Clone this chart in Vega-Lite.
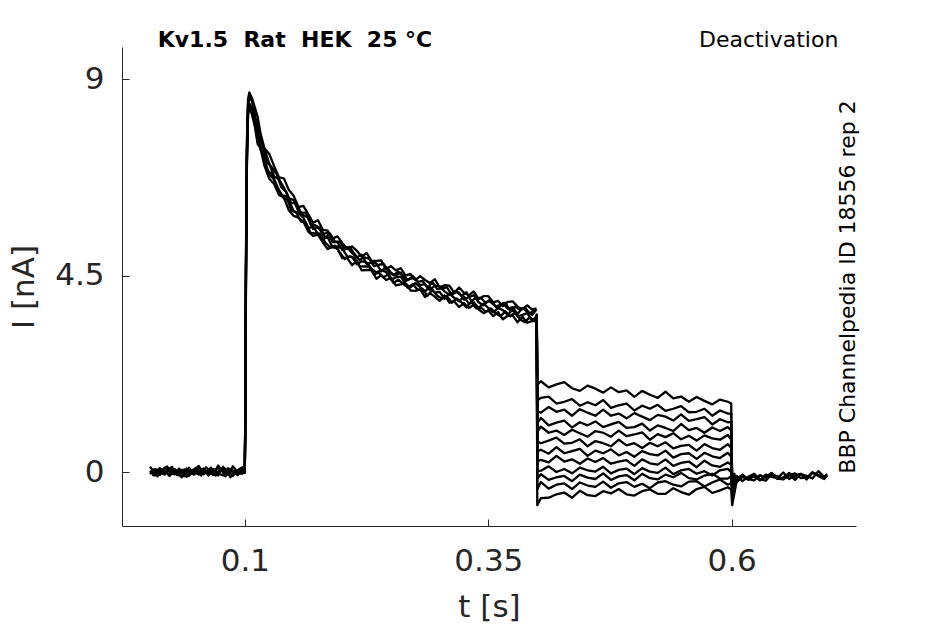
{
"$schema":"https://vega.github.io/schema/vega-lite/v6.json",
"autosize":{"type":"none"},
"width":734,"height":479,
"padding":{"left":122,"top":47,"right":89,"bottom":98},
"background":"white",
"config":{"view":{"stroke":null},"font":"DejaVu Sans",
"axis":{"grid":false,"labelFont":"DejaVu Sans","titleFont":"DejaVu Sans","labelFontSize":31,"titleFontSize":31,"labelColor":"#262626","titleColor":"#262626","titleFontWeight":"normal","domainColor":"#262626","tickColor":"#262626","domainWidth":1,"tickWidth":1,"tickSize":-7,"labelFlush":false,"labelOverlap":false}},
"datasets":{
"notes":[
{"k":"title","t":0.0104,"i":9.74,"label":"Kv1.5\u00a0\u00a0Rat\u00a0\u00a0HEK\u00a0\u00a025 °C"},
{"k":"prot","t":0.7096,"i":9.74,"label":"Deactivation"},
{"k":"src","t":0.7198,"i":4.24,"label":"BBP Channelpedia ID 18556 rep 2"}
],
"traces":[
{"s":"a1","t":0.0025,"i":0.12},{"s":"a1","t":0.0075,"i":-0.03},{"s":"a1","t":0.0125,"i":0.05},{"s":"a1","t":0.0175,"i":-0.06},{"s":"a1","t":0.0225,"i":0.08},{"s":"a1","t":0.0275,"i":0.01},{"s":"a1","t":0.0325,"i":-0.08},{"s":"a1","t":0.0375,"i":0.06},{"s":"a1","t":0.0425,"i":0.0},{"s":"a1","t":0.0475,"i":-0.05},{"s":"a1","t":0.0525,"i":0.09},{"s":"a1","t":0.0575,"i":-0.02},{"s":"a1","t":0.0625,"i":0.04},{"s":"a1","t":0.0675,"i":-0.07},{"s":"a1","t":0.0725,"i":0.15},{"s":"a1","t":0.0775,"i":-0.01},{"s":"a1","t":0.0825,"i":0.06},{"s":"a1","t":0.0875,"i":-0.09},{"s":"a1","t":0.0925,"i":0.03},{"s":"a1","t":0.0975,"i":0.11},{"s":"a1","t":0.0998,"i":0.02},
{"s":"a1","t":0.1003,"i":1.2},{"s":"a1","t":0.101,"i":4.8},{"s":"a1","t":0.102,"i":7.6},{"s":"a1","t":0.1032,"i":8.55},{"s":"a1","t":0.1045,"i":8.7},
{"s":"a1","t":0.107,"i":8.58},{"s":"a1","t":0.11,"i":8.37},{"s":"a1","t":0.113,"i":8.14},{"s":"a1","t":0.116,"i":7.76},{"s":"a1","t":0.12,"i":7.42},{"s":"a1","t":0.125,"i":7.29},{"s":"a1","t":0.13,"i":7.01},{"s":"a1","t":0.135,"i":6.75},{"s":"a1","t":0.14,"i":6.73},{"s":"a1","t":0.145,"i":6.47},{"s":"a1","t":0.15,"i":6.33},{"s":"a1","t":0.155,"i":6.07},{"s":"a1","t":0.16,"i":6.1},{"s":"a1","t":0.165,"i":5.91},{"s":"a1","t":0.17,"i":5.71},{"s":"a1","t":0.175,"i":5.77},{"s":"a1","t":0.18,"i":5.55},{"s":"a1","t":0.185,"i":5.53},{"s":"a1","t":0.19,"i":5.35},{"s":"a1","t":0.195,"i":5.4},{"s":"a1","t":0.2,"i":5.25},{"s":"a1","t":0.205,"i":5.11},{"s":"a1","t":0.21,"i":5.17},{"s":"a1","t":0.215,"i":5.07},{"s":"a1","t":0.22,"i":4.93},{"s":"a1","t":0.225,"i":5.02},{"s":"a1","t":0.23,"i":4.84},{"s":"a1","t":0.235,"i":4.84},{"s":"a1","t":0.24,"i":4.85},{"s":"a1","t":0.245,"i":4.64},{"s":"a1","t":0.25,"i":4.72},{"s":"a1","t":0.255,"i":4.62},{"s":"a1","t":0.26,"i":4.67},{"s":"a1","t":0.265,"i":4.5},{"s":"a1","t":0.27,"i":4.54},{"s":"a1","t":0.275,"i":4.4},{"s":"a1","t":0.28,"i":4.49},{"s":"a1","t":0.285,"i":4.4},{"s":"a1","t":0.29,"i":4.33},{"s":"a1","t":0.295,"i":4.42},{"s":"a1","t":0.3,"i":4.23},{"s":"a1","t":0.305,"i":4.28},{"s":"a1","t":0.31,"i":4.27},{"s":"a1","t":0.315,"i":4.11},{"s":"a1","t":0.32,"i":4.23},{"s":"a1","t":0.325,"i":4.11},{"s":"a1","t":0.33,"i":4.05},{"s":"a1","t":0.335,"i":4.14},{"s":"a1","t":0.34,"i":3.96},{"s":"a1","t":0.345,"i":4.03},{"s":"a1","t":0.35,"i":4.03},{"s":"a1","t":0.355,"i":3.89},{"s":"a1","t":0.36,"i":3.92},{"s":"a1","t":0.365,"i":3.8},{"s":"a1","t":0.37,"i":3.9},{"s":"a1","t":0.375,"i":3.91},{"s":"a1","t":0.38,"i":3.79},{"s":"a1","t":0.385,"i":3.73},{"s":"a1","t":0.39,"i":3.82},{"s":"a1","t":0.395,"i":3.72},{"s":"a1","t":0.3995,"i":3.75},
{"s":"a2","t":0.0025,"i":-0.05},{"s":"a2","t":0.0075,"i":0.07},{"s":"a2","t":0.0125,"i":-0.01},{"s":"a2","t":0.0175,"i":0.04},{"s":"a2","t":0.0225,"i":-0.09},{"s":"a2","t":0.0275,"i":0.06},{"s":"a2","t":0.0325,"i":0.02},{"s":"a2","t":0.0375,"i":-0.04},{"s":"a2","t":0.0425,"i":0.1},{"s":"a2","t":0.0475,"i":-0.06},{"s":"a2","t":0.0525,"i":0.01},{"s":"a2","t":0.0575,"i":0.08},{"s":"a2","t":0.0625,"i":-0.03},{"s":"a2","t":0.0675,"i":0.05},{"s":"a2","t":0.0725,"i":-0.08},{"s":"a2","t":0.0775,"i":0.12},{"s":"a2","t":0.0825,"i":-0.02},{"s":"a2","t":0.0875,"i":0.04},{"s":"a2","t":0.0925,"i":-0.07},{"s":"a2","t":0.0975,"i":0.06},{"s":"a2","t":0.0998,"i":0.0},
{"s":"a2","t":0.1003,"i":1.0},{"s":"a2","t":0.101,"i":4.5},{"s":"a2","t":0.102,"i":7.4},{"s":"a2","t":0.1032,"i":8.45},{"s":"a2","t":0.1045,"i":8.6},
{"s":"a2","t":0.107,"i":8.55},{"s":"a2","t":0.11,"i":8.17},{"s":"a2","t":0.113,"i":7.93},{"s":"a2","t":0.116,"i":7.58},{"s":"a2","t":0.12,"i":7.41},{"s":"a2","t":0.125,"i":7.07},{"s":"a2","t":0.13,"i":6.77},{"s":"a2","t":0.135,"i":6.71},{"s":"a2","t":0.14,"i":6.52},{"s":"a2","t":0.145,"i":6.28},{"s":"a2","t":0.15,"i":6.23},{"s":"a2","t":0.155,"i":5.97},{"s":"a2","t":0.16,"i":5.89},{"s":"a2","t":0.165,"i":5.83},{"s":"a2","t":0.17,"i":5.57},{"s":"a2","t":0.175,"i":5.61},{"s":"a2","t":0.18,"i":5.46},{"s":"a2","t":0.185,"i":5.48},{"s":"a2","t":0.19,"i":5.27},{"s":"a2","t":0.195,"i":5.27},{"s":"a2","t":0.2,"i":5.09},{"s":"a2","t":0.205,"i":5.15},{"s":"a2","t":0.21,"i":5.02},{"s":"a2","t":0.215,"i":4.92},{"s":"a2","t":0.22,"i":4.98},{"s":"a2","t":0.225,"i":4.77},{"s":"a2","t":0.23,"i":4.8},{"s":"a2","t":0.235,"i":4.78},{"s":"a2","t":0.24,"i":4.6},{"s":"a2","t":0.245,"i":4.7},{"s":"a2","t":0.25,"i":4.57},{"s":"a2","t":0.255,"i":4.5},{"s":"a2","t":0.26,"i":4.57},{"s":"a2","t":0.265,"i":4.38},{"s":"a2","t":0.27,"i":4.44},{"s":"a2","t":0.275,"i":4.43},{"s":"a2","t":0.28,"i":4.28},{"s":"a2","t":0.285,"i":4.31},{"s":"a2","t":0.29,"i":4.17},{"s":"a2","t":0.295,"i":4.27},{"s":"a2","t":0.3,"i":4.26},{"s":"a2","t":0.305,"i":4.14},{"s":"a2","t":0.31,"i":4.06},{"s":"a2","t":0.315,"i":4.14},{"s":"a2","t":0.32,"i":4.11},{"s":"a2","t":0.325,"i":3.95},{"s":"a2","t":0.33,"i":4.01},{"s":"a2","t":0.335,"i":4.05},{"s":"a2","t":0.34,"i":3.89},{"s":"a2","t":0.345,"i":3.82},{"s":"a2","t":0.35,"i":3.93},{"s":"a2","t":0.355,"i":3.85},{"s":"a2","t":0.36,"i":3.75},{"s":"a2","t":0.365,"i":3.87},{"s":"a2","t":0.37,"i":3.74},{"s":"a2","t":0.375,"i":3.78},{"s":"a2","t":0.38,"i":3.62},{"s":"a2","t":0.385,"i":3.76},{"s":"a2","t":0.39,"i":3.67},{"s":"a2","t":0.395,"i":3.6},{"s":"a2","t":0.3995,"i":3.73},
{"s":"a3","t":0.0025,"i":0.03},{"s":"a3","t":0.0075,"i":-0.08},{"s":"a3","t":0.0125,"i":0.09},{"s":"a3","t":0.0175,"i":0.0},{"s":"a3","t":0.0225,"i":-0.04},{"s":"a3","t":0.0275,"i":0.07},{"s":"a3","t":0.0325,"i":-0.06},{"s":"a3","t":0.0375,"i":0.03},{"s":"a3","t":0.0425,"i":-0.09},{"s":"a3","t":0.0475,"i":0.05},{"s":"a3","t":0.0525,"i":0.14},{"s":"a3","t":0.0575,"i":-0.05},{"s":"a3","t":0.0625,"i":0.02},{"s":"a3","t":0.0675,"i":0.07},{"s":"a3","t":0.0725,"i":-0.03},{"s":"a3","t":0.0775,"i":-0.08},{"s":"a3","t":0.0825,"i":0.09},{"s":"a3","t":0.0875,"i":0.01},{"s":"a3","t":0.0925,"i":-0.05},{"s":"a3","t":0.0975,"i":0.04},{"s":"a3","t":0.0998,"i":-0.02},
{"s":"a3","t":0.1003,"i":0.9},{"s":"a3","t":0.101,"i":4.3},{"s":"a3","t":0.102,"i":7.2},{"s":"a3","t":0.1032,"i":8.3},{"s":"a3","t":0.1045,"i":8.45},
{"s":"a3","t":0.107,"i":8.34},{"s":"a3","t":0.11,"i":7.98},{"s":"a3","t":0.113,"i":7.78},{"s":"a3","t":0.116,"i":7.4},{"s":"a3","t":0.12,"i":7.18},{"s":"a3","t":0.125,"i":6.81},{"s":"a3","t":0.13,"i":6.71},{"s":"a3","t":0.135,"i":6.46},{"s":"a3","t":0.14,"i":6.27},{"s":"a3","t":0.145,"i":6.23},{"s":"a3","t":0.15,"i":5.98},{"s":"a3","t":0.155,"i":5.93},{"s":"a3","t":0.16,"i":5.83},{"s":"a3","t":0.165,"i":5.58},{"s":"a3","t":0.17,"i":5.63},{"s":"a3","t":0.175,"i":5.46},{"s":"a3","t":0.18,"i":5.34},{"s":"a3","t":0.185,"i":5.38},{"s":"a3","t":0.19,"i":5.15},{"s":"a3","t":0.195,"i":5.17},{"s":"a3","t":0.2,"i":5.12},{"s":"a3","t":0.205,"i":4.94},{"s":"a3","t":0.21,"i":4.93},{"s":"a3","t":0.215,"i":4.76},{"s":"a3","t":0.22,"i":4.83},{"s":"a3","t":0.225,"i":4.8},{"s":"a3","t":0.23,"i":4.66},{"s":"a3","t":0.235,"i":4.57},{"s":"a3","t":0.24,"i":4.63},{"s":"a3","t":0.245,"i":4.58},{"s":"a3","t":0.25,"i":4.41},{"s":"a3","t":0.255,"i":4.46},{"s":"a3","t":0.26,"i":4.48},{"s":"a3","t":0.265,"i":4.31},{"s":"a3","t":0.27,"i":4.23},{"s":"a3","t":0.275,"i":4.33},{"s":"a3","t":0.28,"i":4.24},{"s":"a3","t":0.285,"i":4.14},{"s":"a3","t":0.29,"i":4.24},{"s":"a3","t":0.295,"i":4.11},{"s":"a3","t":0.3,"i":4.13},{"s":"a3","t":0.305,"i":3.97},{"s":"a3","t":0.31,"i":4.09},{"s":"a3","t":0.315,"i":3.99},{"s":"a3","t":0.32,"i":3.91},{"s":"a3","t":0.325,"i":4.02},{"s":"a3","t":0.33,"i":3.86},{"s":"a3","t":0.335,"i":3.89},{"s":"a3","t":0.34,"i":3.76},{"s":"a3","t":0.345,"i":3.86},{"s":"a3","t":0.35,"i":3.76},{"s":"a3","t":0.355,"i":3.66},{"s":"a3","t":0.36,"i":3.76},{"s":"a3","t":0.365,"i":3.71},{"s":"a3","t":0.37,"i":3.6},{"s":"a3","t":0.375,"i":3.73},{"s":"a3","t":0.38,"i":3.57},{"s":"a3","t":0.385,"i":3.6},{"s":"a3","t":0.39,"i":3.64},{"s":"a3","t":0.395,"i":3.46},{"s":"a3","t":0.3995,"i":3.57},
{"s":"a4","t":0.0025,"i":-0.02},{"s":"a4","t":0.0075,"i":0.05},{"s":"a4","t":0.0125,"i":-0.07},{"s":"a4","t":0.0175,"i":0.1},{"s":"a4","t":0.0225,"i":0.02},{"s":"a4","t":0.0275,"i":-0.05},{"s":"a4","t":0.0325,"i":0.08},{"s":"a4","t":0.0375,"i":-0.1},{"s":"a4","t":0.0425,"i":0.04},{"s":"a4","t":0.0475,"i":0.01},{"s":"a4","t":0.0525,"i":-0.06},{"s":"a4","t":0.0575,"i":0.06},{"s":"a4","t":0.0625,"i":-0.08},{"s":"a4","t":0.0675,"i":0.02},{"s":"a4","t":0.0725,"i":0.09},{"s":"a4","t":0.0775,"i":0.03},{"s":"a4","t":0.0825,"i":-0.06},{"s":"a4","t":0.0875,"i":0.13},{"s":"a4","t":0.0925,"i":0.0},{"s":"a4","t":0.0975,"i":-0.04},{"s":"a4","t":0.0998,"i":0.03},
{"s":"a4","t":0.1003,"i":0.8},{"s":"a4","t":0.101,"i":4.1},{"s":"a4","t":0.102,"i":7.0},{"s":"a4","t":0.1032,"i":8.2},{"s":"a4","t":0.1045,"i":8.35},
{"s":"a4","t":0.107,"i":8.21},{"s":"a4","t":0.11,"i":7.94},{"s":"a4","t":0.113,"i":7.52},{"s":"a4","t":0.116,"i":7.42},{"s":"a4","t":0.12,"i":7.02},{"s":"a4","t":0.125,"i":6.72},{"s":"a4","t":0.13,"i":6.6},{"s":"a4","t":0.135,"i":6.35},{"s":"a4","t":0.14,"i":6.29},{"s":"a4","t":0.145,"i":6.0},{"s":"a4","t":0.15,"i":5.87},{"s":"a4","t":0.155,"i":5.83},{"s":"a4","t":0.16,"i":5.74},{"s":"a4","t":0.165,"i":5.51},{"s":"a4","t":0.17,"i":5.41},{"s":"a4","t":0.175,"i":5.44},{"s":"a4","t":0.18,"i":5.26},{"s":"a4","t":0.185,"i":5.11},{"s":"a4","t":0.19,"i":5.16},{"s":"a4","t":0.195,"i":5.12},{"s":"a4","t":0.2,"i":4.9},{"s":"a4","t":0.205,"i":4.91},{"s":"a4","t":0.21,"i":4.74},{"s":"a4","t":0.215,"i":4.84},{"s":"a4","t":0.22,"i":4.62},{"s":"a4","t":0.225,"i":4.63},{"s":"a4","t":0.23,"i":4.63},{"s":"a4","t":0.235,"i":4.43},{"s":"a4","t":0.24,"i":4.51},{"s":"a4","t":0.245,"i":4.4},{"s":"a4","t":0.25,"i":4.45},{"s":"a4","t":0.255,"i":4.28},{"s":"a4","t":0.26,"i":4.3},{"s":"a4","t":0.265,"i":4.33},{"s":"a4","t":0.27,"i":4.16},{"s":"a4","t":0.275,"i":4.15},{"s":"a4","t":0.28,"i":4.19},{"s":"a4","t":0.285,"i":4.01},{"s":"a4","t":0.29,"i":4.1},{"s":"a4","t":0.295,"i":4.02},{"s":"a4","t":0.3,"i":3.92},{"s":"a4","t":0.305,"i":4.05},{"s":"a4","t":0.31,"i":3.88},{"s":"a4","t":0.315,"i":3.91},{"s":"a4","t":0.32,"i":3.78},{"s":"a4","t":0.325,"i":3.87},{"s":"a4","t":0.33,"i":3.76},{"s":"a4","t":0.335,"i":3.83},{"s":"a4","t":0.34,"i":3.73},{"s":"a4","t":0.345,"i":3.64},{"s":"a4","t":0.35,"i":3.7},{"s":"a4","t":0.355,"i":3.57},{"s":"a4","t":0.36,"i":3.67},{"s":"a4","t":0.365,"i":3.5},{"s":"a4","t":0.37,"i":3.58},{"s":"a4","t":0.375,"i":3.59},{"s":"a4","t":0.38,"i":3.43},{"s":"a4","t":0.385,"i":3.56},{"s":"a4","t":0.39,"i":3.42},{"s":"a4","t":0.395,"i":3.46},{"s":"a4","t":0.3995,"i":3.46},
{"s":"a5","t":0.005,"i":0.07},{"s":"a5","t":0.01,"i":-0.1},{"s":"a5","t":0.015,"i":0.04},{"s":"a5","t":0.02,"i":0.13},{"s":"a5","t":0.025,"i":-0.05},{"s":"a5","t":0.03,"i":0.02},{"s":"a5","t":0.035,"i":-0.12},{"s":"a5","t":0.04,"i":0.08},{"s":"a5","t":0.045,"i":-0.03},{"s":"a5","t":0.05,"i":0.06},{"s":"a5","t":0.055,"i":-0.08},{"s":"a5","t":0.06,"i":0.11},{"s":"a5","t":0.065,"i":0.0},{"s":"a5","t":0.07,"i":-0.06},{"s":"a5","t":0.075,"i":0.09},{"s":"a5","t":0.08,"i":-0.1},{"s":"a5","t":0.085,"i":0.05},{"s":"a5","t":0.09,"i":-0.02},{"s":"a5","t":0.095,"i":0.08},{"s":"a5","t":0.0998,"i":0.0},
{"s":"a5","t":0.1003,"i":1.1},{"s":"a5","t":0.101,"i":4.6},{"s":"a5","t":0.102,"i":7.3},{"s":"a5","t":0.1032,"i":8.4},{"s":"a5","t":0.1045,"i":8.55},
{"s":"a5","t":0.1075,"i":8.51},{"s":"a5","t":0.1125,"i":7.87},{"s":"a5","t":0.1175,"i":7.54},{"s":"a5","t":0.1225,"i":7.1},{"s":"a5","t":0.1275,"i":6.99},{"s":"a5","t":0.1325,"i":6.83},{"s":"a5","t":0.1375,"i":6.52},{"s":"a5","t":0.1425,"i":6.42},{"s":"a5","t":0.1475,"i":6.16},{"s":"a5","t":0.1525,"i":6.16},{"s":"a5","t":0.1575,"i":5.95},{"s":"a5","t":0.1625,"i":5.94},{"s":"a5","t":0.1675,"i":5.67},{"s":"a5","t":0.1725,"i":5.65},{"s":"a5","t":0.1775,"i":5.59},{"s":"a5","t":0.1825,"i":5.37},{"s":"a5","t":0.1875,"i":5.46},{"s":"a5","t":0.1925,"i":5.28},{"s":"a5","t":0.1975,"i":5.28},{"s":"a5","t":0.2025,"i":5.1},{"s":"a5","t":0.2075,"i":5.16},{"s":"a5","t":0.2125,"i":5.0},{"s":"a5","t":0.2175,"i":4.86},{"s":"a5","t":0.2225,"i":4.92},{"s":"a5","t":0.2275,"i":4.89},{"s":"a5","t":0.2325,"i":4.72},{"s":"a5","t":0.2375,"i":4.75},{"s":"a5","t":0.2425,"i":4.77},{"s":"a5","t":0.2475,"i":4.59},{"s":"a5","t":0.2525,"i":4.51},{"s":"a5","t":0.2575,"i":4.59},{"s":"a5","t":0.2625,"i":4.5},{"s":"a5","t":0.2675,"i":4.4},{"s":"a5","t":0.2725,"i":4.49},{"s":"a5","t":0.2775,"i":4.36},{"s":"a5","t":0.2825,"i":4.38},{"s":"a5","t":0.2875,"i":4.22},{"s":"a5","t":0.2925,"i":4.35},{"s":"a5","t":0.2975,"i":4.19},{"s":"a5","t":0.3025,"i":4.21},{"s":"a5","t":0.3075,"i":4.23},{"s":"a5","t":0.3125,"i":4.06},{"s":"a5","t":0.3175,"i":4.13},{"s":"a5","t":0.3225,"i":4.04},{"s":"a5","t":0.3275,"i":4.12},{"s":"a5","t":0.3325,"i":3.92},{"s":"a5","t":0.3375,"i":3.99},{"s":"a5","t":0.3425,"i":3.99},{"s":"a5","t":0.3475,"i":3.87},{"s":"a5","t":0.3525,"i":3.95},{"s":"a5","t":0.3575,"i":3.79},{"s":"a5","t":0.3625,"i":3.83},{"s":"a5","t":0.3675,"i":3.88},{"s":"a5","t":0.3725,"i":3.69},{"s":"a5","t":0.3775,"i":3.79},{"s":"a5","t":0.3825,"i":3.72},{"s":"a5","t":0.3875,"i":3.77},{"s":"a5","t":0.3925,"i":3.64},{"s":"a5","t":0.3975,"i":3.7},
{"s":"a6","t":0.005,"i":-0.09},{"s":"a6","t":0.01,"i":0.06},{"s":"a6","t":0.015,"i":-0.04},{"s":"a6","t":0.02,"i":0.02},{"s":"a6","t":0.025,"i":0.12},{"s":"a6","t":0.03,"i":-0.07},{"s":"a6","t":0.035,"i":0.05},{"s":"a6","t":0.04,"i":-0.11},{"s":"a6","t":0.045,"i":0.03},{"s":"a6","t":0.05,"i":0.09},{"s":"a6","t":0.055,"i":-0.05},{"s":"a6","t":0.06,"i":-0.01},{"s":"a6","t":0.065,"i":0.1},{"s":"a6","t":0.07,"i":-0.08},{"s":"a6","t":0.075,"i":0.04},{"s":"a6","t":0.08,"i":0.07},{"s":"a6","t":0.085,"i":-0.12},{"s":"a6","t":0.09,"i":0.03},{"s":"a6","t":0.095,"i":-0.04},{"s":"a6","t":0.0998,"i":0.01},
{"s":"a6","t":0.1003,"i":0.95},{"s":"a6","t":0.101,"i":4.4},{"s":"a6","t":0.102,"i":7.1},{"s":"a6","t":0.1032,"i":8.25},{"s":"a6","t":0.1045,"i":8.4},
{"s":"a6","t":0.1075,"i":8.33},{"s":"a6","t":0.1125,"i":7.69},{"s":"a6","t":0.1175,"i":7.35},{"s":"a6","t":0.1225,"i":6.92},{"s":"a6","t":0.1275,"i":6.83},{"s":"a6","t":0.1325,"i":6.54},{"s":"a6","t":0.1375,"i":6.34},{"s":"a6","t":0.1425,"i":6.32},{"s":"a6","t":0.1475,"i":5.99},{"s":"a6","t":0.1525,"i":5.95},{"s":"a6","t":0.1575,"i":5.74},{"s":"a6","t":0.1625,"i":5.72},{"s":"a6","t":0.1675,"i":5.48},{"s":"a6","t":0.1725,"i":5.47},{"s":"a6","t":0.1775,"i":5.46},{"s":"a6","t":0.1825,"i":5.26},{"s":"a6","t":0.1875,"i":5.15},{"s":"a6","t":0.1925,"i":5.19},{"s":"a6","t":0.1975,"i":5.03},{"s":"a6","t":0.2025,"i":4.88},{"s":"a6","t":0.2075,"i":4.94},{"s":"a6","t":0.2125,"i":4.91},{"s":"a6","t":0.2175,"i":4.72},{"s":"a6","t":0.2225,"i":4.71},{"s":"a6","t":0.2275,"i":4.71},{"s":"a6","t":0.2325,"i":4.53},{"s":"a6","t":0.2375,"i":4.57},{"s":"a6","t":0.2425,"i":4.46},{"s":"a6","t":0.2475,"i":4.54},{"s":"a6","t":0.2525,"i":4.33},{"s":"a6","t":0.2575,"i":4.41},{"s":"a6","t":0.2625,"i":4.31},{"s":"a6","t":0.2675,"i":4.22},{"s":"a6","t":0.2725,"i":4.31},{"s":"a6","t":0.2775,"i":4.17},{"s":"a6","t":0.2825,"i":4.19},{"s":"a6","t":0.2875,"i":4.04},{"s":"a6","t":0.2925,"i":4.17},{"s":"a6","t":0.2975,"i":4.04},{"s":"a6","t":0.3025,"i":3.97},{"s":"a6","t":0.3075,"i":4.03},{"s":"a6","t":0.3125,"i":3.88},{"s":"a6","t":0.3175,"i":3.98},{"s":"a6","t":0.3225,"i":3.89},{"s":"a6","t":0.3275,"i":3.77},{"s":"a6","t":0.3325,"i":3.91},{"s":"a6","t":0.3375,"i":3.75},{"s":"a6","t":0.3425,"i":3.77},{"s":"a6","t":0.3475,"i":3.67},{"s":"a6","t":0.3525,"i":3.75},{"s":"a6","t":0.3575,"i":3.64},{"s":"a6","t":0.3625,"i":3.57},{"s":"a6","t":0.3675,"i":3.68},{"s":"a6","t":0.3725,"i":3.57},{"s":"a6","t":0.3775,"i":3.66},{"s":"a6","t":0.3825,"i":3.5},{"s":"a6","t":0.3875,"i":3.43},{"s":"a6","t":0.3925,"i":3.55},{"s":"a6","t":0.3975,"i":3.47},
{"s":"d1","t":0.3998,"i":3.62},{"s":"d1","t":0.4003,"i":2.0},{"s":"d1","t":0.404,"i":2.08},{"s":"d1","t":0.412,"i":1.94},{"s":"d1","t":0.42,"i":2.01},{"s":"d1","t":0.428,"i":2.06},{"s":"d1","t":0.436,"i":1.92},{"s":"d1","t":0.444,"i":1.86},{"s":"d1","t":0.452,"i":1.98},{"s":"d1","t":0.46,"i":1.91},{"s":"d1","t":0.468,"i":1.82},{"s":"d1","t":0.476,"i":1.94},{"s":"d1","t":0.484,"i":1.83},{"s":"d1","t":0.492,"i":1.87},{"s":"d1","t":0.5,"i":1.72},{"s":"d1","t":0.508,"i":1.86},{"s":"d1","t":0.516,"i":1.77},{"s":"d1","t":0.524,"i":1.7},{"s":"d1","t":0.532,"i":1.84},{"s":"d1","t":0.54,"i":1.69},{"s":"d1","t":0.548,"i":1.73},{"s":"d1","t":0.556,"i":1.61},{"s":"d1","t":0.564,"i":1.72},{"s":"d1","t":0.572,"i":1.63},{"s":"d1","t":0.58,"i":1.55},{"s":"d1","t":0.588,"i":1.66},{"s":"d1","t":0.596,"i":1.61},{"s":"d1","t":0.5995,"i":1.57},{"s":"d1","t":0.6005,"i":-0.25},
{"s":"d1","t":0.605,"i":-0.09},{"s":"d1","t":0.611,"i":-0.21},{"s":"d1","t":0.617,"i":-0.11},{"s":"d1","t":0.623,"i":-0.04},{"s":"d1","t":0.629,"i":-0.16},{"s":"d1","t":0.635,"i":-0.2},{"s":"d1","t":0.641,"i":-0.05},{"s":"d1","t":0.647,"i":-0.1},{"s":"d1","t":0.653,"i":-0.16},{"s":"d1","t":0.659,"i":-0.02},{"s":"d1","t":0.665,"i":-0.11},{"s":"d1","t":0.671,"i":-0.05},{"s":"d1","t":0.677,"i":-0.17},{"s":"d1","t":0.683,"i":-0.01},{"s":"d1","t":0.689,"i":-0.07},{"s":"d1","t":0.695,"i":-0.12},{"s":"d1","t":0.698,"i":-0.06},
{"s":"d2","t":0.3998,"i":3.55},{"s":"d2","t":0.4003,"i":1.64},{"s":"d2","t":0.404,"i":1.7},{"s":"d2","t":0.412,"i":1.73},{"s":"d2","t":0.42,"i":1.57},{"s":"d2","t":0.428,"i":1.61},{"s":"d2","t":0.436,"i":1.67},{"s":"d2","t":0.444,"i":1.52},{"s":"d2","t":0.452,"i":1.6},{"s":"d2","t":0.46,"i":1.53},{"s":"d2","t":0.468,"i":1.65},{"s":"d2","t":0.476,"i":1.47},{"s":"d2","t":0.484,"i":1.53},{"s":"d2","t":0.492,"i":1.57},{"s":"d2","t":0.5,"i":1.41},{"s":"d2","t":0.508,"i":1.52},{"s":"d2","t":0.516,"i":1.45},{"s":"d2","t":0.524,"i":1.54},{"s":"d2","t":0.532,"i":1.4},{"s":"d2","t":0.54,"i":1.45},{"s":"d2","t":0.548,"i":1.51},{"s":"d2","t":0.556,"i":1.37},{"s":"d2","t":0.564,"i":1.38},{"s":"d2","t":0.572,"i":1.45},{"s":"d2","t":0.58,"i":1.29},{"s":"d2","t":0.588,"i":1.41},{"s":"d2","t":0.596,"i":1.34},{"s":"d2","t":0.5995,"i":1.34},{"s":"d2","t":0.6005,"i":-0.3},{"s":"d2","t":0.603,"i":-0.05},
{"s":"d3","t":0.3998,"i":3.5},{"s":"d3","t":0.4003,"i":1.4},{"s":"d3","t":0.404,"i":1.36},{"s":"d3","t":0.412,"i":1.49},{"s":"d3","t":0.42,"i":1.38},{"s":"d3","t":0.428,"i":1.43},{"s":"d3","t":0.436,"i":1.29},{"s":"d3","t":0.444,"i":1.44},{"s":"d3","t":0.452,"i":1.36},{"s":"d3","t":0.46,"i":1.29},{"s":"d3","t":0.468,"i":1.43},{"s":"d3","t":0.476,"i":1.29},{"s":"d3","t":0.484,"i":1.34},{"s":"d3","t":0.492,"i":1.23},{"s":"d3","t":0.5,"i":1.35},{"s":"d3","t":0.508,"i":1.27},{"s":"d3","t":0.516,"i":1.19},{"s":"d3","t":0.524,"i":1.31},{"s":"d3","t":0.532,"i":1.27},{"s":"d3","t":0.54,"i":1.18},{"s":"d3","t":0.548,"i":1.32},{"s":"d3","t":0.556,"i":1.17},{"s":"d3","t":0.564,"i":1.21},{"s":"d3","t":0.572,"i":1.26},{"s":"d3","t":0.58,"i":1.09},{"s":"d3","t":0.588,"i":1.21},{"s":"d3","t":0.596,"i":1.14},{"s":"d3","t":0.5995,"i":1.15},{"s":"d3","t":0.6005,"i":-0.2},{"s":"d3","t":0.603,"i":-0.15},
{"s":"d4","t":0.3998,"i":3.58},{"s":"d4","t":0.4003,"i":1.12},{"s":"d4","t":0.404,"i":1.24},{"s":"d4","t":0.412,"i":1.07},{"s":"d4","t":0.42,"i":1.13},{"s":"d4","t":0.428,"i":1.18},{"s":"d4","t":0.436,"i":1.02},{"s":"d4","t":0.444,"i":1.14},{"s":"d4","t":0.452,"i":1.07},{"s":"d4","t":0.46,"i":1.16},{"s":"d4","t":0.468,"i":1.03},{"s":"d4","t":0.476,"i":1.09},{"s":"d4","t":0.484,"i":1.15},{"s":"d4","t":0.492,"i":1.01},{"s":"d4","t":0.5,"i":1.03},{"s":"d4","t":0.508,"i":1.11},{"s":"d4","t":0.516,"i":0.95},{"s":"d4","t":0.524,"i":1.07},{"s":"d4","t":0.532,"i":1.01},{"s":"d4","t":0.54,"i":0.94},{"s":"d4","t":0.548,"i":1.1},{"s":"d4","t":0.556,"i":0.96},{"s":"d4","t":0.564,"i":1.01},{"s":"d4","t":0.572,"i":0.9},{"s":"d4","t":0.58,"i":1.02},{"s":"d4","t":0.588,"i":0.94},{"s":"d4","t":0.596,"i":1.03},{"s":"d4","t":0.5995,"i":0.95},{"s":"d4","t":0.6005,"i":-0.35},
{"s":"d4","t":0.605,"i":-0.24},{"s":"d4","t":0.611,"i":-0.11},{"s":"d4","t":0.617,"i":-0.16},{"s":"d4","t":0.623,"i":-0.06},{"s":"d4","t":0.629,"i":-0.18},{"s":"d4","t":0.635,"i":-0.11},{"s":"d4","t":0.641,"i":-0.03},{"s":"d4","t":0.647,"i":-0.16},{"s":"d4","t":0.653,"i":-0.12},{"s":"d4","t":0.659,"i":-0.04},{"s":"d4","t":0.665,"i":-0.18},{"s":"d4","t":0.671,"i":-0.05},{"s":"d4","t":0.677,"i":-0.09},{"s":"d4","t":0.683,"i":-0.15},{"s":"d4","t":0.689,"i":0.02},{"s":"d4","t":0.695,"i":-0.11},{"s":"d4","t":0.698,"i":-0.08},
{"s":"d5","t":0.3998,"i":3.47},{"s":"d5","t":0.4003,"i":0.92},{"s":"d5","t":0.404,"i":1.04},{"s":"d5","t":0.412,"i":0.9},{"s":"d5","t":0.42,"i":0.95},{"s":"d5","t":0.428,"i":0.85},{"s":"d5","t":0.436,"i":0.97},{"s":"d5","t":0.444,"i":0.89},{"s":"d5","t":0.452,"i":0.81},{"s":"d5","t":0.46,"i":0.94},{"s":"d5","t":0.468,"i":0.9},{"s":"d5","t":0.476,"i":0.81},{"s":"d5","t":0.484,"i":0.95},{"s":"d5","t":0.492,"i":0.82},{"s":"d5","t":0.5,"i":0.86},{"s":"d5","t":0.508,"i":0.91},{"s":"d5","t":0.516,"i":0.74},{"s":"d5","t":0.524,"i":0.87},{"s":"d5","t":0.532,"i":0.8},{"s":"d5","t":0.54,"i":0.89},{"s":"d5","t":0.548,"i":0.75},{"s":"d5","t":0.556,"i":0.83},{"s":"d5","t":0.564,"i":0.72},{"s":"d5","t":0.572,"i":0.84},{"s":"d5","t":0.58,"i":0.77},{"s":"d5","t":0.588,"i":0.74},{"s":"d5","t":0.596,"i":0.85},{"s":"d5","t":0.5995,"i":0.75},{"s":"d5","t":0.6005,"i":-0.15},{"s":"d5","t":0.603,"i":-0.08},
{"s":"d6","t":0.3998,"i":3.6},{"s":"d6","t":0.4003,"i":0.7},{"s":"d6","t":0.404,"i":0.66},{"s":"d6","t":0.412,"i":0.72},{"s":"d6","t":0.42,"i":0.79},{"s":"d6","t":0.428,"i":0.65},{"s":"d6","t":0.436,"i":0.67},{"s":"d6","t":0.444,"i":0.75},{"s":"d6","t":0.452,"i":0.59},{"s":"d6","t":0.46,"i":0.71},{"s":"d6","t":0.468,"i":0.66},{"s":"d6","t":0.476,"i":0.59},{"s":"d6","t":0.484,"i":0.74},{"s":"d6","t":0.492,"i":0.61},{"s":"d6","t":0.5,"i":0.66},{"s":"d6","t":0.508,"i":0.55},{"s":"d6","t":0.516,"i":0.67},{"s":"d6","t":0.524,"i":0.59},{"s":"d6","t":0.532,"i":0.68},{"s":"d6","t":0.54,"i":0.54},{"s":"d6","t":0.548,"i":0.6},{"s":"d6","t":0.556,"i":0.62},{"s":"d6","t":0.564,"i":0.49},{"s":"d6","t":0.572,"i":0.64},{"s":"d6","t":0.58,"i":0.55},{"s":"d6","t":0.588,"i":0.51},{"s":"d6","t":0.596,"i":0.64},{"s":"d6","t":0.5995,"i":0.55},{"s":"d6","t":0.6005,"i":-0.4},{"s":"d6","t":0.603,"i":-0.12},
{"s":"d7","t":0.3998,"i":3.52},{"s":"d7","t":0.4003,"i":0.47},{"s":"d7","t":0.404,"i":0.51},{"s":"d7","t":0.412,"i":0.42},{"s":"d7","t":0.42,"i":0.57},{"s":"d7","t":0.428,"i":0.43},{"s":"d7","t":0.436,"i":0.48},{"s":"d7","t":0.444,"i":0.53},{"s":"d7","t":0.452,"i":0.37},{"s":"d7","t":0.46,"i":0.49},{"s":"d7","t":0.468,"i":0.43},{"s":"d7","t":0.476,"i":0.52},{"s":"d7","t":0.484,"i":0.38},{"s":"d7","t":0.492,"i":0.46},{"s":"d7","t":0.5,"i":0.35},{"s":"d7","t":0.508,"i":0.48},{"s":"d7","t":0.516,"i":0.41},{"s":"d7","t":0.524,"i":0.38},{"s":"d7","t":0.532,"i":0.49},{"s":"d7","t":0.54,"i":0.33},{"s":"d7","t":0.548,"i":0.41},{"s":"d7","t":0.556,"i":0.43},{"s":"d7","t":0.564,"i":0.3},{"s":"d7","t":0.572,"i":0.44},{"s":"d7","t":0.58,"i":0.36},{"s":"d7","t":0.588,"i":0.32},{"s":"d7","t":0.596,"i":0.44},{"s":"d7","t":0.5995,"i":0.35},{"s":"d7","t":0.6005,"i":-0.2},{"s":"d7","t":0.603,"i":-0.02},
{"s":"d8","t":0.3998,"i":3.56},{"s":"d8","t":0.4003,"i":0.25},{"s":"d8","t":0.404,"i":0.28},{"s":"d8","t":0.412,"i":0.22},{"s":"d8","t":0.42,"i":0.37},{"s":"d8","t":0.428,"i":0.24},{"s":"d8","t":0.436,"i":0.29},{"s":"d8","t":0.444,"i":0.19},{"s":"d8","t":0.452,"i":0.31},{"s":"d8","t":0.46,"i":0.23},{"s":"d8","t":0.468,"i":0.32},{"s":"d8","t":0.476,"i":0.19},{"s":"d8","t":0.484,"i":0.24},{"s":"d8","t":0.492,"i":0.27},{"s":"d8","t":0.5,"i":0.14},{"s":"d8","t":0.508,"i":0.29},{"s":"d8","t":0.516,"i":0.2},{"s":"d8","t":0.524,"i":0.17},{"s":"d8","t":0.532,"i":0.29},{"s":"d8","t":0.54,"i":0.14},{"s":"d8","t":0.548,"i":0.21},{"s":"d8","t":0.556,"i":0.24},{"s":"d8","t":0.564,"i":0.11},{"s":"d8","t":0.572,"i":0.26},{"s":"d8","t":0.58,"i":0.15},{"s":"d8","t":0.588,"i":0.12},{"s":"d8","t":0.596,"i":0.22},{"s":"d8","t":0.5995,"i":0.17},{"s":"d8","t":0.6005,"i":-0.45},
{"s":"d8","t":0.605,"i":-0.16},{"s":"d8","t":0.611,"i":-0.06},{"s":"d8","t":0.617,"i":-0.18},{"s":"d8","t":0.623,"i":-0.1},{"s":"d8","t":0.629,"i":-0.19},{"s":"d8","t":0.635,"i":-0.06},{"s":"d8","t":0.641,"i":-0.11},{"s":"d8","t":0.647,"i":-0.14},{"s":"d8","t":0.653,"i":-0.01},{"s":"d8","t":0.659,"i":-0.16},{"s":"d8","t":0.665,"i":-0.07},{"s":"d8","t":0.671,"i":-0.04},{"s":"d8","t":0.677,"i":-0.16},{"s":"d8","t":0.683,"i":-0.01},{"s":"d8","t":0.689,"i":-0.08},{"s":"d8","t":0.695,"i":-0.11},{"s":"d8","t":0.698,"i":-0.05},
{"s":"d9","t":0.3998,"i":3.49},{"s":"d9","t":0.4003,"i":0.02},{"s":"d9","t":0.404,"i":0.03},{"s":"d9","t":0.412,"i":0.13},{"s":"d9","t":0.42,"i":0.0},{"s":"d9","t":0.428,"i":0.07},{"s":"d9","t":0.436,"i":-0.03},{"s":"d9","t":0.444,"i":0.1},{"s":"d9","t":0.452,"i":0.04},{"s":"d9","t":0.46,"i":0.01},{"s":"d9","t":0.468,"i":0.12},{"s":"d9","t":0.476,"i":-0.03},{"s":"d9","t":0.484,"i":0.05},{"s":"d9","t":0.492,"i":0.08},{"s":"d9","t":0.5,"i":-0.05},{"s":"d9","t":0.508,"i":0.09},{"s":"d9","t":0.516,"i":0.01},{"s":"d9","t":0.524,"i":-0.02},{"s":"d9","t":0.532,"i":0.1},{"s":"d9","t":0.54,"i":-0.05},{"s":"d9","t":0.548,"i":0.04},{"s":"d9","t":0.556,"i":0.07},{"s":"d9","t":0.564,"i":-0.04},{"s":"d9","t":0.572,"i":0.02},{"s":"d9","t":0.58,"i":-0.08},{"s":"d9","t":0.588,"i":0.04},{"s":"d9","t":0.596,"i":0.07},{"s":"d9","t":0.5995,"i":0.0},{"s":"d9","t":0.6005,"i":-0.3},{"s":"d9","t":0.603,"i":-0.18},
{"s":"d10","t":0.3998,"i":3.63},{"s":"d10","t":0.4003,"i":-0.15},{"s":"d10","t":0.404,"i":-0.05},{"s":"d10","t":0.412,"i":-0.18},{"s":"d10","t":0.42,"i":-0.12},{"s":"d10","t":0.428,"i":-0.09},{"s":"d10","t":0.436,"i":-0.21},{"s":"d10","t":0.444,"i":-0.06},{"s":"d10","t":0.452,"i":-0.13},{"s":"d10","t":0.46,"i":-0.16},{"s":"d10","t":0.468,"i":-0.03},{"s":"d10","t":0.476,"i":-0.18},{"s":"d10","t":0.484,"i":-0.1},{"s":"d10","t":0.492,"i":-0.07},{"s":"d10","t":0.5,"i":-0.19},{"s":"d10","t":0.508,"i":-0.04},{"s":"d10","t":0.516,"i":-0.14},{"s":"d10","t":0.524,"i":-0.17},{"s":"d10","t":0.532,"i":-0.06},{"s":"d10","t":0.54,"i":-0.12},{"s":"d10","t":0.548,"i":-0.02},{"s":"d10","t":0.556,"i":-0.14},{"s":"d10","t":0.564,"i":-0.17},{"s":"d10","t":0.572,"i":-0.08},{"s":"d10","t":0.58,"i":-0.04},{"s":"d10","t":0.588,"i":-0.15},{"s":"d10","t":0.596,"i":-0.15},{"s":"d10","t":0.5995,"i":-0.1},{"s":"d10","t":0.6005,"i":-0.55},{"s":"d10","t":0.603,"i":-0.1},
{"s":"d11","t":0.3998,"i":3.54},{"s":"d11","t":0.4003,"i":-0.4},{"s":"d11","t":0.404,"i":-0.23},{"s":"d11","t":0.412,"i":-0.38},{"s":"d11","t":0.42,"i":-0.29},{"s":"d11","t":0.428,"i":-0.26},{"s":"d11","t":0.436,"i":-0.39},{"s":"d11","t":0.444,"i":-0.24},{"s":"d11","t":0.452,"i":-0.31},{"s":"d11","t":0.46,"i":-0.34},{"s":"d11","t":0.468,"i":-0.22},{"s":"d11","t":0.476,"i":-0.36},{"s":"d11","t":0.484,"i":-0.26},{"s":"d11","t":0.492,"i":-0.23},{"s":"d11","t":0.5,"i":-0.34},{"s":"d11","t":0.508,"i":-0.27},{"s":"d11","t":0.516,"i":-0.37},{"s":"d11","t":0.524,"i":-0.24},{"s":"d11","t":0.532,"i":-0.21},{"s":"d11","t":0.54,"i":-0.29},{"s":"d11","t":0.548,"i":-0.33},{"s":"d11","t":0.556,"i":-0.22},{"s":"d11","t":0.564,"i":-0.21},{"s":"d11","t":0.572,"i":-0.33},{"s":"d11","t":0.58,"i":-0.24},{"s":"d11","t":0.588,"i":-0.17},{"s":"d11","t":0.596,"i":-0.29},{"s":"d11","t":0.5995,"i":-0.25},{"s":"d11","t":0.6005,"i":-0.35},{"s":"d11","t":0.603,"i":-0.06},
{"s":"d12","t":0.3998,"i":3.51},{"s":"d12","t":0.4003,"i":-0.76},{"s":"d12","t":0.404,"i":-0.6},{"s":"d12","t":0.412,"i":-0.59},{"s":"d12","t":0.42,"i":-0.51},{"s":"d12","t":0.428,"i":-0.47},{"s":"d12","t":0.436,"i":-0.59},{"s":"d12","t":0.444,"i":-0.43},{"s":"d12","t":0.452,"i":-0.53},{"s":"d12","t":0.46,"i":-0.55},{"s":"d12","t":0.468,"i":-0.44},{"s":"d12","t":0.476,"i":-0.49},{"s":"d12","t":0.484,"i":-0.39},{"s":"d12","t":0.492,"i":-0.51},{"s":"d12","t":0.5,"i":-0.54},{"s":"d12","t":0.508,"i":-0.44},{"s":"d12","t":0.516,"i":-0.4},{"s":"d12","t":0.524,"i":-0.5},{"s":"d12","t":0.532,"i":-0.5},{"s":"d12","t":0.54,"i":-0.37},{"s":"d12","t":0.548,"i":-0.46},{"s":"d12","t":0.556,"i":-0.52},{"s":"d12","t":0.564,"i":-0.39},{"s":"d12","t":0.572,"i":-0.34},{"s":"d12","t":0.58,"i":-0.48},{"s":"d12","t":0.588,"i":-0.42},{"s":"d12","t":0.596,"i":-0.35},{"s":"d12","t":0.5995,"i":-0.4},{"s":"d12","t":0.6005,"i":-0.76},
{"s":"d12","t":0.605,"i":-0.22},{"s":"d12","t":0.611,"i":-0.07},{"s":"d12","t":0.617,"i":-0.16},{"s":"d12","t":0.623,"i":-0.19},{"s":"d12","t":0.629,"i":-0.07},{"s":"d12","t":0.635,"i":-0.13},{"s":"d12","t":0.641,"i":-0.02},{"s":"d12","t":0.647,"i":-0.15},{"s":"d12","t":0.653,"i":-0.17},{"s":"d12","t":0.659,"i":-0.08},{"s":"d12","t":0.665,"i":-0.03},{"s":"d12","t":0.671,"i":-0.14},{"s":"d12","t":0.677,"i":-0.13},{"s":"d12","t":0.683,"i":-0.01},{"s":"d12","t":0.689,"i":-0.09},{"s":"d12","t":0.695,"i":-0.16},{"s":"d12","t":0.698,"i":-0.08}
]},
"layer":[
{"data":{"name":"traces"},
"mark":{"type":"line","color":"black","strokeWidth":2.3,"strokeJoin":"round"},
"encoding":{
"x":{"field":"t","type":"quantitative","title":"t [s]","scale":{"domain":[-0.0263,0.7277],"nice":false,"zero":false},
"axis":{"values":[0.1,0.35,0.6],"format":".2~f","labelPadding":27,"titlePadding":16}},
"y":{"field":"i","type":"quantitative","title":"I [nA]","scale":{"domain":[-1.237,9.74],"nice":false,"zero":false},
"axis":{"values":[0,4.5,9],"format":".2~f","labelPadding":25,"titlePadding":14}},
"detail":{"field":"s","type":"nominal"}}},
{"data":{"name":"notes"},"transform":[{"filter":"datum.k === 'title'"}],
"mark":{"type":"text","align":"left","baseline":"alphabetic","fontSize":22,"fontWeight":"bold","font":"DejaVu Sans","color":"black"},
"encoding":{"x":{"field":"t","type":"quantitative","title":"t [s]"},"y":{"field":"i","type":"quantitative","title":"I [nA]"},"text":{"field":"label"}}},
{"data":{"name":"notes"},"transform":[{"filter":"datum.k === 'prot'"}],
"mark":{"type":"text","align":"right","baseline":"alphabetic","fontSize":22,"font":"DejaVu Sans","color":"black"},
"encoding":{"x":{"field":"t","type":"quantitative","title":"t [s]"},"y":{"field":"i","type":"quantitative","title":"I [nA]"},"text":{"field":"label"}}},
{"data":{"name":"notes"},"transform":[{"filter":"datum.k === 'src'"}],
"mark":{"type":"text","align":"center","baseline":"middle","angle":270,"fontSize":22,"font":"DejaVu Sans","color":"black"},
"encoding":{"x":{"field":"t","type":"quantitative","title":"t [s]"},"y":{"field":"i","type":"quantitative","title":"I [nA]"},"text":{"field":"label"}}}
]
}
